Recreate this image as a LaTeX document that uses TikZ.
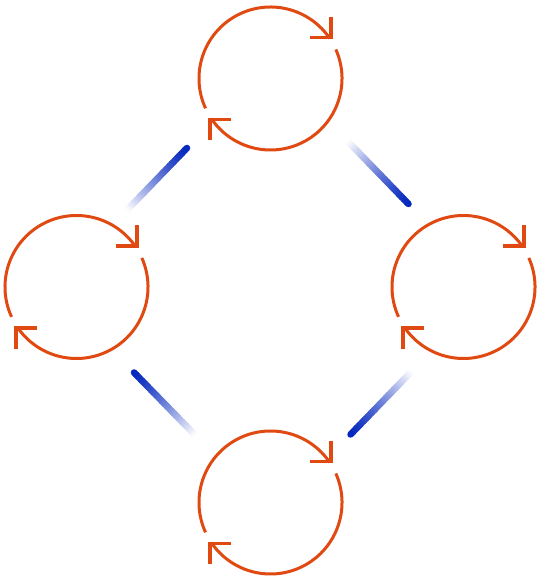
\documentclass[tikz,border=0pt]{standalone}
\usetikzlibrary{calc}
\definecolor{ringc}{RGB}{224,74,18}
\definecolor{flowc}{RGB}{5,40,190}
\tikzset{
  ring/.style={circle, minimum size=143pt, inner sep=0pt, draw=none},
  ringline/.style={draw=ringc, line width=3pt},
  armline/.style={draw=ringc, line width=3.6pt, line join=miter, line cap=butt},
  flowseg/.style={line width=6.5pt, line cap=butt},
}
\newcommand{\cyclering}[1]{%
  \draw[ringline] ($(#1)+(204.7:71.5)$) arc[start angle=204.7, end angle=34, radius=71.5];
  \draw[ringline] ($(#1)+(24:71.5)$) arc[start angle=24, end angle=-146, radius=71.5];
  \draw[armline] ($(#1)+(34:71.5)+(1,22)$) -- ++(0,-21) -- ++(-21,0);
  \draw[armline] ($(#1)+(-146:71.5)+(-1,-22)$) -- ++(0,21) -- ++(21,0);
}
\newcommand{\flowline}[2]{%
  \foreach \i in {0,...,39}{%
    \pgfmathsetmacro\pa{\i/40}%
    \pgfmathsetmacro\pb{min(1,(\i+1.6)/40)}%
    \pgfmathsetmacro\pc{100*(1-((\i+0.5)/40)^1.3)}%
    \draw[flowseg, draw=flowc!\pc!white] ($(#1)!\pa!(#2)$) -- ($(#1)!\pb!(#2)$);
  }
  \fill[flowc] (#1) circle (3.25);
}
\begin{document}
\begin{tikzpicture}[x=1pt, y=1pt]
  \fill[white] (0,0) rectangle (540,580);
  \useasboundingbox (0,0) rectangle (540,580);
  % rings
  \node[ring] (top) at (270.5,501.5) {};
  \node[ring] (left) at (76.5,293) {};
  \node[ring] (right) at (463.5,293) {};
  \node[ring] (bottom) at (270.5,77.5) {};
  \cyclering{top}
  \cyclering{left}
  \cyclering{right}
  \cyclering{bottom}
  % flow line end points (d = dark end, f = faint end)
  \coordinate (l1d) at (187,432);
  \coordinate (l1f) at (127,370);
  \coordinate (l2d) at (408.5,376);
  \coordinate (l2f) at (348,438.5);
  \coordinate (l3d) at (134,207.5);
  \coordinate (l3f) at (195,145);
  \coordinate (l4d) at (350.5,145.5);
  \coordinate (l4f) at (411.5,208.5);
  \flowline{l1d}{l1f}
  \flowline{l2d}{l2f}
  \flowline{l3d}{l3f}
  \flowline{l4d}{l4f}
\end{tikzpicture}
\end{document}
